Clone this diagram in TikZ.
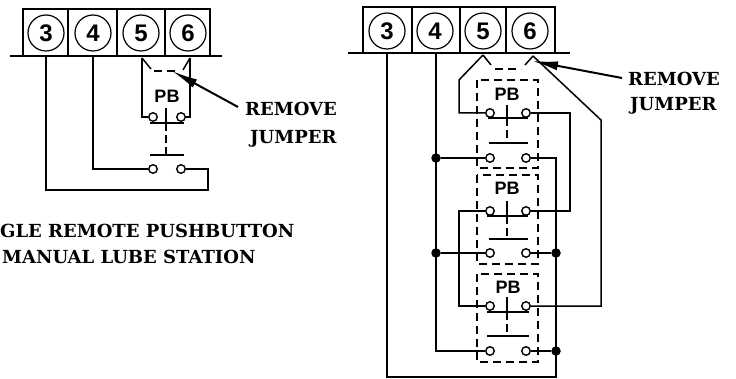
\documentclass[tikz,border=0pt]{standalone}
\usepackage{fontspec}
\newfontfamily\pbfont{Liberation Sans}
\newfontfamily\labelfont{DejaVu Serif}
\usetikzlibrary{arrows.meta}
\tikzstyle{wire} = [line width=1.5pt]
\tikzstyle{pointer} = [line width=2pt]
\tikzstyle{terminal} = [circle,draw,line width=1.2pt,minimum size=36pt,inner sep=0pt,
    font=\pbfont\bfseries\fontsize{24}{24}\selectfont]
\tikzstyle{contact} = [circle,draw,line width=1.4pt,fill=white,minimum size=8.5pt,inner sep=0pt]
\tikzstyle{junction} = [circle,fill=black,minimum size=9.5pt,inner sep=0pt]
\tikzstyle{pblabel} = [font=\pbfont\bfseries\fontsize{18}{18}\selectfont]
\tikzstyle{serif} = [font=\labelfont\bfseries\fontsize{18}{18}\selectfont,anchor=base west,inner sep=0pt]
\tikzstyle{boxline} = [line width=1.4pt,dash pattern=on 8pt off 5pt]
\tikzstyle{stem} = [line width=1.5pt,dash pattern=on 8pt off 4pt]
\tikzset{>={Latex[length=26pt,width=9pt]}}

\begin{document}
\begin{tikzpicture}[x=1pt,y=-1pt]
\useasboundingbox (0,0) rectangle (736,379);
\begin{scope}
    %left terminal strip
    \draw[wire] (10,56) -- (222,56);
    \draw[wire] (23,56) -- (23,9) -- (210,9) -- (210,56);
    \draw[wire] (68,9) -- (68,56);
    \draw[wire] (117,9) -- (117,56);
    \draw[wire] (165,9) -- (165,56);
    \node[terminal] (a3) at (46,33) {3};
    \node[terminal] (a4) at (93,33) {4};
    \node[terminal] (a5) at (141,33) {5};
    \node[terminal] (a6) at (188,33) {6};
    \coordinate (af3) at (46,56);
    \coordinate (af4) at (93,56);
    \coordinate (af5) at (142,58);
    \coordinate (af6) at (190,58);
    %left contacts
    \node[contact] (ap1) at (153,117) {};
    \node[contact] (ap2) at (181,117) {};
    \node[contact] (aq1) at (153,169) {};
    \node[contact] (aq2) at (181,169) {};
    \coordinate (ac) at (208,190);
    %left wires
    \draw[wire] (af3) |- (ac) -- (aq2 -| ac) -- (aq2);
    \draw[wire] (af4) |- (aq1);
    \draw[wire] (af5) |- (ap1);
    \draw[wire] (af6) |- (ap2);
    \draw[wire] (af5) -- (151,69);
    \draw[wire] (af6) -- (183,70);
    \draw[boxline] (154,71) -- (178,71);
    %left button
    \draw[wire] (150,123) -- (184,123);
    \draw[wire] (150,155) -- (184,155);
    \draw[wire] (166,108) -- (166,123);
    \draw[stem] (166,123) -- (166,155);
    \node[pblabel] (apb) at (167,96) {PB};
    %left labels
    \node[serif] (arm) at (245,116) {REMOVE};
    \node[serif] (aj) at (250,144) {JUMPER};
    \node[serif] (ac1) at (0,238) {GLE REMOTE PUSHBUTTON};
    \node[serif] (ac2) at (2,264) {MANUAL LUBE STATION};
    \coordinate (aa) at (238,107);
    \coordinate (ab) at (172,71);
    \draw[->,pointer] (aa) -- (ab);
\end{scope}
\begin{scope}
    %right terminal strip
    \draw[wire] (348,53) -- (570,53);
    \draw[wire] (363,53) -- (363,7) -- (555,7) -- (555,53);
    \draw[wire] (412,7) -- (412,53);
    \draw[wire] (460,7) -- (460,53);
    \draw[wire] (506,7) -- (506,53);
    \node[terminal] (b3) at (387,31) {3};
    \node[terminal] (b4) at (435,31) {4};
    \node[terminal] (b5) at (483,31) {5};
    \node[terminal] (b6) at (530,31) {6};
    \coordinate (bf3) at (387,53);
    \coordinate (bf4) at (436,53);
    \coordinate (bf5) at (483,55);
    \coordinate (bf6) at (533,56);
    %stations
    \draw[boxline] (477,80) rectangle (538,168);
    \draw[boxline] (477,175) rectangle (538,264);
    \draw[boxline] (477,274) rectangle (538,362);
    %contacts
    \node[contact] (s1) at (490,113) {};
    \node[contact] (s2) at (526,113) {};
    \node[contact] (s3) at (490,158) {};
    \node[contact] (s4) at (526,158) {};
    \node[contact] (t1) at (490,211) {};
    \node[contact] (t2) at (526,211) {};
    \node[contact] (t3) at (490,253) {};
    \node[contact] (t4) at (526,253) {};
    \node[contact] (u1) at (490,306) {};
    \node[contact] (u2) at (526,306) {};
    \node[contact] (u3) at (490,351) {};
    \node[contact] (u4) at (526,351) {};
    %junctions
    \node[junction] (j1) at (436,158) {};
    \node[junction] (j2) at (436,253) {};
    \node[junction] (j3) at (556,253) {};
    \node[junction] (j4) at (556,351) {};
    \coordinate (r1) at (459,80);
    \coordinate (r2) at (570,113);
    \coordinate (r3) at (601,120);
    \coordinate (r4) at (459,211);
    \coordinate (r5) at (556,158);
    \coordinate (r6) at (556,377);
    %right wires
    \draw[wire] (bf3) |- (r6) -- (r5) -- (s4);
    \draw[wire] (bf4) |- (u3);
    \draw[wire] (j1) -- (s3);
    \draw[wire] (j2) -- (t3);
    \draw[wire] (t4) -- (j3);
    \draw[wire] (u4) -- (j4);
    \draw[wire] (bf5) -- (r1) |- (s1);
    \draw[wire] (bf5) -- (491,65);
    \draw[wire] (bf6) -- (525,65);
    \draw[wire] (bf6) -- (r3) |- (u2);
    \draw[wire] (s2) -- (r2) |- (t2);
    \draw[wire] (t1) -- (r4) |- (u1);
    \draw[boxline] (495,69) -- (521,69);
    %buttons
    \draw[wire] (488,118) -- (528,118);
    \draw[wire] (489,143) -- (528,143);
    \draw[wire] (507,105) -- (507,118);
    \draw[stem] (507,118) -- (507,143);
    \draw[wire] (487,216) -- (528,216);
    \draw[wire] (489,239) -- (528,239);
    \draw[wire] (507,201) -- (507,216);
    \draw[stem] (507,216) -- (507,239);
    \draw[wire] (487,312) -- (529,312);
    \draw[wire] (487,336) -- (529,336);
    \draw[wire] (507,297) -- (507,312);
    \draw[stem] (507,312) -- (507,336);
    \node[pblabel] (bpb1) at (507,94) {PB};
    \node[pblabel] (bpb2) at (507,188) {PB};
    \node[pblabel] (bpb3) at (508,287) {PB};
    %right labels
    \node[serif] (brm) at (628,86) {REMOVE};
    \node[serif] (bj) at (630,111) {JUMPER};
    \coordinate (ba) at (622,78);
    \coordinate (bb) at (532,61);
    \draw[->,pointer] (ba) -- (bb);
\end{scope}
\end{tikzpicture}
\end{document}
